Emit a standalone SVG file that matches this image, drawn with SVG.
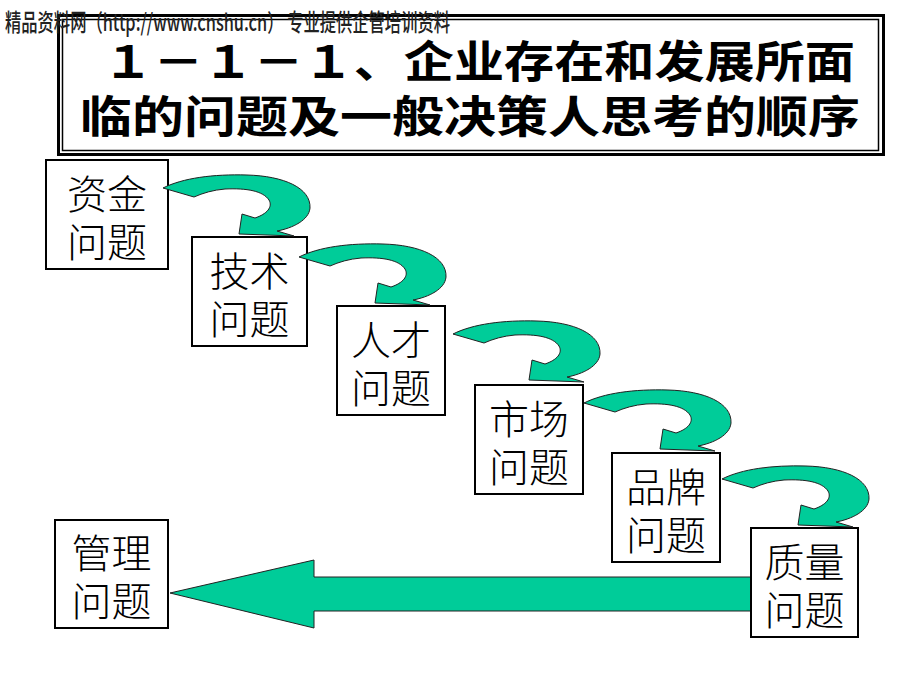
<svg xmlns="http://www.w3.org/2000/svg" width="920" height="690" viewBox="0 0 920 690">
<defs>
<style>
.box{fill:#fff;stroke:#000;stroke-width:2}
.lbl{font-family:"Noto Sans CJK SC","Noto Sans CJK JP",sans-serif;font-size:40px;font-weight:300;fill:#000;text-anchor:middle}
.arr{fill:#00CC99;stroke:#222;stroke-width:1}
.title{font-family:"Noto Sans CJK SC",sans-serif;font-weight:bold;font-size:44px;fill:#000}
</style>
<path id="curve" d="M0,0 C20,-10 50,-14 84,-13 C121,-12 148,0 147,20 C146,32 130,40 114,43 L131,48 L76,46 L79,26 L92,30 C104,26 110,19 106,12 C100,3 84,0 62,1 C50,2 40,5 31,9 Z"/>
</defs>
<rect width="920" height="690" fill="#fff"/>
<g id="title">
<rect x="58.5" y="15.5" width="825" height="139" fill="none" stroke="#000" stroke-width="3"/>
<rect x="62.5" y="19.5" width="816" height="131" fill="none" stroke="#000" stroke-width="1.5"/>
<text class="title" x="103" y="78" textLength="752" lengthAdjust="spacingAndGlyphs">１－１－１、企业存在和发展所面</text>
<text class="title" x="80" y="133" textLength="780" lengthAdjust="spacingAndGlyphs">临的问题及一般决策人思考的顺序</text>
</g>
<text id="watermark" x="5" y="31" font-family="Noto Sans CJK SC, sans-serif" font-size="24" font-weight="500" fill="#222" textLength="445" lengthAdjust="spacingAndGlyphs">精品资料网（http://www.cnshu.cn） 专业提供企管培训资料</text>
<g id="connectors">
<polygon class="arr" points="170,593 314,560 314,577 751,577 751,611 314,611 314,628"/>
</g>
<g id="n1"><rect class="box" x="46" y="160" width="122" height="109"/><text class="lbl" x="107" y="209">资金</text><text class="lbl" x="107" y="257">问题</text></g>
<g id="n2"><rect class="box" x="192" y="237" width="115" height="109"/><text class="lbl" x="249.5" y="286">技术</text><text class="lbl" x="249.5" y="334">问题</text></g>
<g id="n3"><rect class="box" x="337" y="306" width="108" height="109"/><text class="lbl" x="391" y="355">人才</text><text class="lbl" x="391" y="403">问题</text></g>
<g id="n4"><rect class="box" x="475" y="385" width="108" height="109"/><text class="lbl" x="529" y="434">市场</text><text class="lbl" x="529" y="482">问题</text></g>
<g id="n5"><rect class="box" x="612" y="453" width="108" height="109"/><text class="lbl" x="666" y="502">品牌</text><text class="lbl" x="666" y="550">问题</text></g>
<g id="n6"><rect class="box" x="751" y="528" width="107" height="109"/><text class="lbl" x="804.5" y="577">质量</text><text class="lbl" x="804.5" y="625">问题</text></g>
<g id="n7"><rect class="box" x="55" y="520" width="113" height="108"/><text class="lbl" x="111.5" y="568">管理</text><text class="lbl" x="111.5" y="616">问题</text></g>
<g id="curved-connectors">
<use href="#curve" class="arr" x="163" y="188"/>
<use href="#curve" class="arr" x="299" y="257"/>
<use href="#curve" class="arr" x="453" y="334"/>
<use href="#curve" class="arr" x="584" y="403"/>
<use href="#curve" class="arr" x="722" y="479"/>
</g>
</svg>
